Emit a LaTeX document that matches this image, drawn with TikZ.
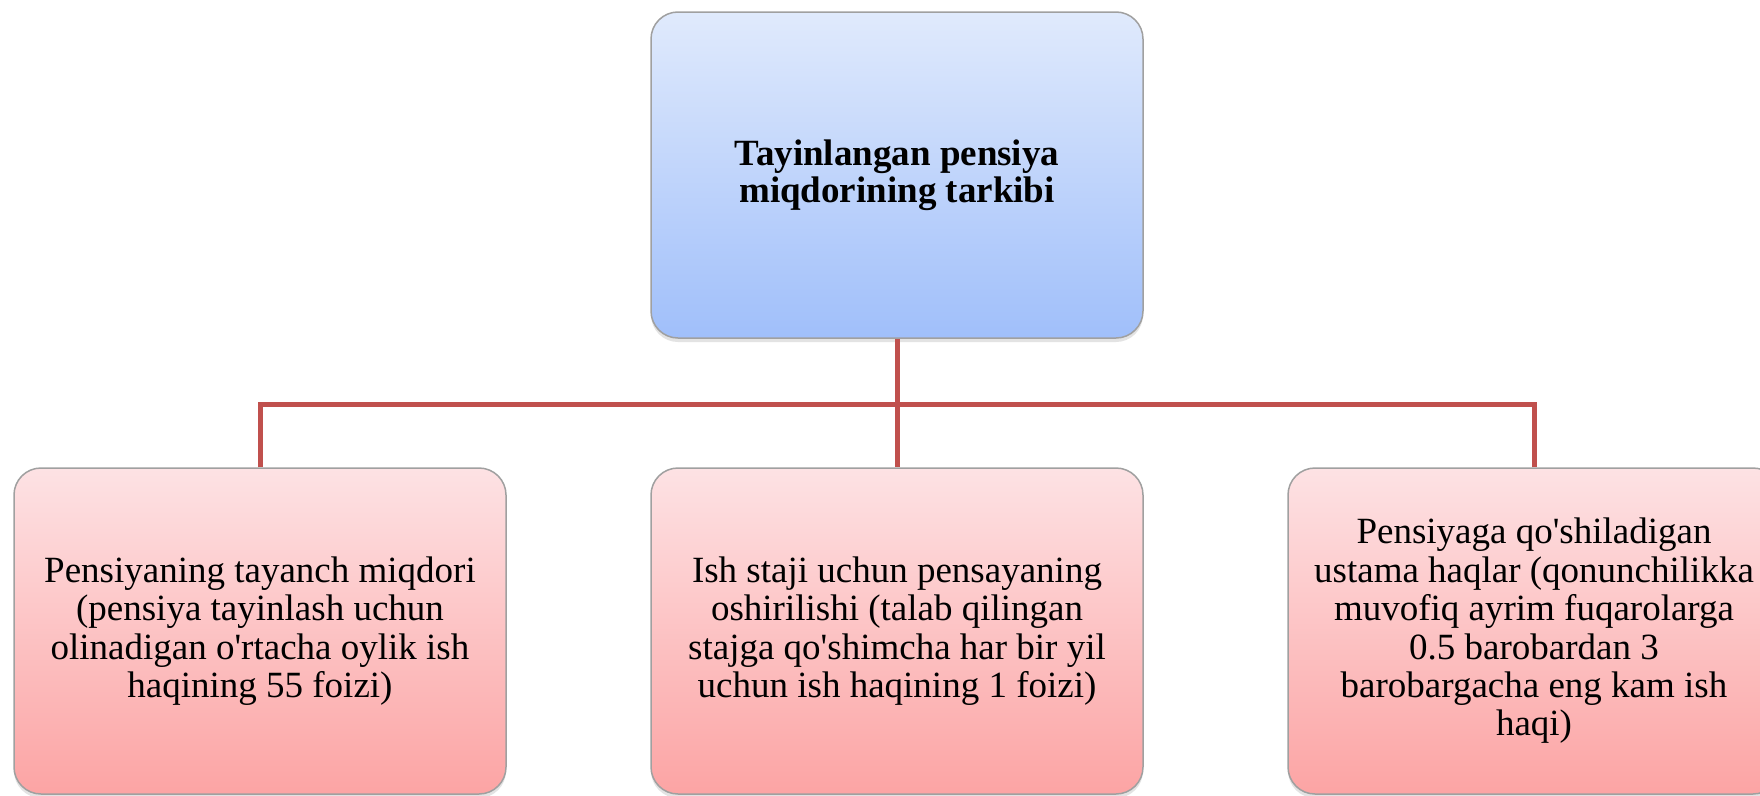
\documentclass[tikz,border=0pt]{standalone}
\usepackage{fontspec}
\setmainfont{Liberation Serif}[Ligatures=TeXOff]
\usetikzlibrary{shadows}
\definecolor{linkred}{RGB}{192,80,77}
\definecolor{bluetop}{RGB}{224,234,252}
\definecolor{bluebot}{RGB}{160,191,250}
\definecolor{pinktop}{RGB}{253,226,228}
\definecolor{pinkbot}{RGB}{252,164,164}
\definecolor{boxedge}{RGB}{160,160,160}
\tikzset{
  basebox/.style={draw=boxedge, line width=1.5pt, rounded corners=27pt,
    minimum width=492pt, minimum height=326pt, inner sep=0pt, align=center,
    drop shadow={opacity=0.22, shadow xshift=0pt, shadow yshift=-4pt}},
  headbox/.style={basebox, top color=bluetop, bottom color=bluebot,
    font=\fontsize{37}{37}\selectfont\bfseries},
  childbox/.style={basebox, top color=pinktop, bottom color=pinkbot,
    font=\fontsize{37}{38.4}\selectfont},
  link/.style={draw=linkred, line width=5pt}
}
\begin{document}
\begin{tikzpicture}[x=1pt, y=-1pt]
\useasboundingbox (0,0) rectangle (1760,795);
\fill[white] (0,0) rectangle (1760,795);
\coordinate (bus) at (897,404);
\node[headbox] (top) at (897,175) {Tayinlangan pensiya\\miqdorining tarkibi};
\node[childbox] (left) at (260,631) {Pensiyaning tayanch miqdori\\(pensiya tayinlash uchun\\olinadigan o'rtacha oylik ish\\haqining 55 foizi)};
\node[childbox] (mid) at (897,631) {Ish staji uchun pensayaning\\oshirilishi (talab qilingan\\stajga qo'shimcha har bir yil\\uchun ish haqining 1 foizi)};
\node[childbox] (right) at (1534,631) {Pensiyaga qo'shiladigan\\ustama haqlar (qonunchilikka\\muvofiq ayrim fuqarolarga\\0.5 barobardan 3\\barobargacha eng kam ish\\haqi)};
\draw[link] (top.south) -- (mid.north);
\draw[link] (left.north) |- (bus);
\draw[link] (right.north) |- (bus);
\end{tikzpicture}
\end{document}
